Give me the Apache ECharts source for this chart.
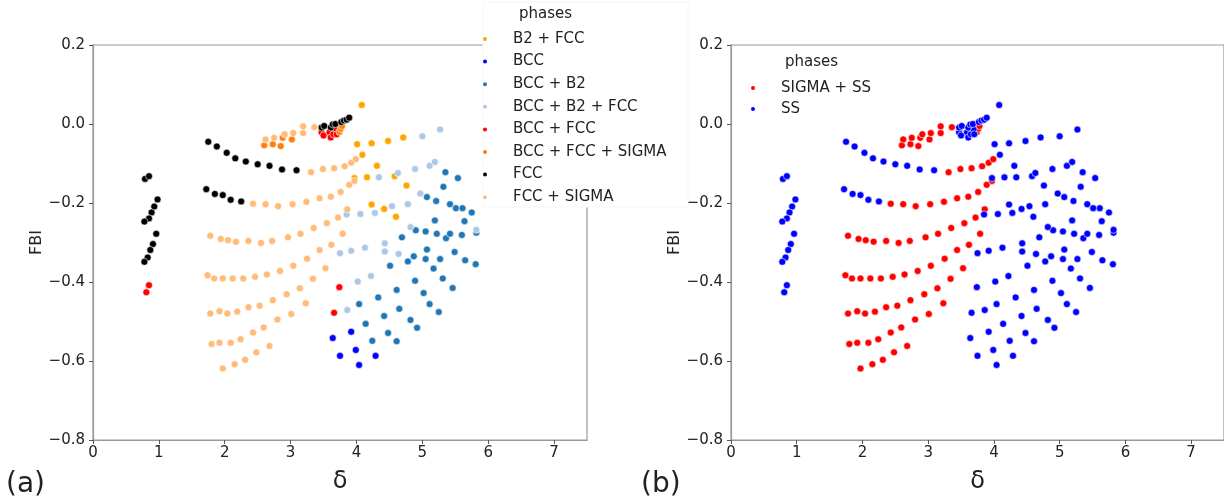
<!DOCTYPE html>
<html>
<head>
<meta charset="utf-8">
<script src="https://cdn.jsdelivr.net/npm/echarts@6/dist/echarts.min.js"></script>
<style>
  html, body { margin: 0; padding: 0; background: #fff; }
  #chart { width: 1224px; height: 501px; }
</style>
</head>
<body>
<div id="chart"></div>
<script>
// ticks
const xTicks = [0, 1, 2, 3, 4, 5, 6, 7];
const yTicks = [0.2, 0.0, -0.2, -0.4, -0.6, -0.8];

// phase order as in the legend
const phaseNames = ['B2 + FCC', 'BCC', 'BCC + B2', 'BCC + B2 + FCC', 'BCC + FCC', 'BCC + FCC + SIGMA', 'FCC', 'FCC + SIGMA'];
const phaseColors = ['#ffa500', '#0000ff', '#1f77b4', '#aec7e8', '#ff0000', '#ff7f0e', '#000000', '#ffbb78'];

// [delta, FBI] per phase
const b2Fcc = [
  [4.08, 0.048], [4.01, -0.051], [4.23, -0.049], [4.48, -0.043], [4.71, -0.034],
  [4.09, -0.078], [4.31, -0.106], [3.97, -0.137], [4.16, -0.135], [4.58, -0.132], [4.76, -0.156],
  [4.23, -0.204], [4.42, -0.215], [4.60, -0.235]
];
const bcc = [
  [3.92, -0.526], [3.64, -0.542], [3.99, -0.572], [3.75, -0.587], [4.29, -0.587], [4.04, -0.610]
];
const bccB2 = [
  [5.35, -0.122], [5.54, -0.137], [5.32, -0.159], [5.07, -0.185], [5.21, -0.195], [5.42, -0.203],
  [5.51, -0.213], [5.61, -0.213], [5.75, -0.224], [5.19, -0.244], [5.64, -0.246],
  [4.90, -0.269], [5.05, -0.272], [5.22, -0.278], [5.36, -0.289], [5.42, -0.278], [5.60, -0.281], [5.82, -0.275],
  [4.69, -0.287], [5.07, -0.318], [4.87, -0.335], [4.78, -0.348], [5.05, -0.342], [5.27, -0.342],
  [5.49, -0.324], [5.65, -0.345], [5.81, -0.355],
  [4.51, -0.359], [5.17, -0.366], [5.31, -0.391], [4.89, -0.397], [5.46, -0.415], [4.61, -0.420],
  [5.02, -0.428], [4.33, -0.439], [5.11, -0.456], [4.65, -0.468], [4.04, -0.456], [5.25, -0.476],
  [4.42, -0.486], [4.82, -0.496], [4.14, -0.506], [4.92, -0.516], [4.48, -0.529], [4.24, -0.549], [4.61, -0.550]
];
const bccB2Fcc = [
  [5.00, -0.031], [5.27, -0.014],
  [4.34, -0.135], [4.63, -0.124], [4.89, -0.114], [5.11, -0.106], [5.19, -0.096],
  [4.97, -0.176], [4.78, -0.203], [4.54, -0.208], [4.28, -0.225], [4.06, -0.228], [3.85, -0.229],
  [4.82, -0.261], [5.82, -0.268],
  [4.43, -0.302], [4.43, -0.323], [4.64, -0.329], [4.13, -0.313], [3.92, -0.321], [3.75, -0.327],
  [4.22, -0.385], [4.02, -0.399], [3.86, -0.471]
];
const bccFcc = [
  [0.85, -0.408], [0.81, -0.426],
  [3.74, -0.413], [3.66, -0.478],
  [3.47, -0.021], [3.50, -0.029], [3.59, -0.021], [3.61, -0.034], [3.65, -0.026], [3.69, -0.014], [3.70, -0.026]
];
const bccFccSigma = [
  [2.60, -0.054], [2.73, -0.051], [2.85, -0.056], [2.88, -0.035], [3.02, -0.039],
  [3.74, -0.020], [3.76, -0.012], [3.78, -0.005]
];
const fcc = [
  [0.79, -0.139], [0.85, -0.132],
  [0.98, -0.191], [0.93, -0.209], [0.89, -0.224], [0.85, -0.239], [0.78, -0.247],
  [0.96, -0.278], [0.91, -0.304], [0.87, -0.319], [0.83, -0.338], [0.78, -0.349],
  [1.75, -0.045], [1.88, -0.057], [2.03, -0.073], [2.16, -0.087], [2.32, -0.095], [2.50, -0.102],
  [2.68, -0.106], [2.87, -0.115], [3.09, -0.117],
  [1.72, -0.165], [1.85, -0.177], [1.97, -0.180], [2.09, -0.192], [2.25, -0.196],
  [3.47, -0.009], [3.51, -0.005], [3.61, -0.009], [3.64, -0.001], [3.68, 0.000],
  [3.77, 0.005], [3.81, 0.009], [3.85, 0.011], [3.89, 0.016]
];
const fccSigma = [
  [2.62, -0.039], [2.75, -0.035], [2.91, -0.026], [3.04, -0.023], [3.19, -0.006], [3.19, -0.023], [3.36, -0.008],
  [3.31, -0.122], [3.49, -0.114], [3.66, -0.112], [3.82, -0.107], [3.92, -0.098], [3.99, -0.089],
  [2.43, -0.202], [2.62, -0.203], [2.81, -0.208], [3.03, -0.203], [3.24, -0.197], [3.44, -0.188],
  [3.61, -0.184], [3.76, -0.172], [3.89, -0.154], [3.97, -0.144],
  [1.78, -0.283], [1.94, -0.291], [2.05, -0.294], [2.17, -0.298], [2.36, -0.296], [2.55, -0.301],
  [2.72, -0.296], [2.96, -0.287], [3.15, -0.278], [3.35, -0.263], [3.55, -0.251], [3.72, -0.237], [3.86, -0.216],
  [1.74, -0.383], [1.84, -0.391], [1.97, -0.391], [2.12, -0.391], [2.28, -0.391], [2.46, -0.387],
  [2.64, -0.381], [2.84, -0.372], [3.04, -0.359], [3.25, -0.341], [3.44, -0.319], [3.62, -0.306], [3.79, -0.278],
  [1.78, -0.480], [1.92, -0.474], [2.04, -0.480], [2.19, -0.475], [2.36, -0.464], [2.53, -0.460],
  [2.73, -0.446], [2.94, -0.431], [3.14, -0.416], [3.34, -0.392], [3.53, -0.365],
  [1.80, -0.557], [1.92, -0.554], [2.09, -0.554], [2.24, -0.545], [2.43, -0.528], [2.59, -0.515],
  [2.80, -0.495], [3.01, -0.481], [3.23, -0.454],
  [1.97, -0.619], [2.15, -0.608], [2.31, -0.597], [2.48, -0.578], [2.68, -0.562]
];
const phaseData = [b2Fcc, bcc, bccB2, bccB2Fcc, bccFcc, bccFccSigma, fcc, fccSigma];

// panel (b): the same alloys grouped by whether SIGMA is present
const groupNames = ['SIGMA + SS', 'SS'];
const groupColors = ['#ff0000', '#0000ff'];

(function () {
  const chartDom = document.getElementById('chart');
  const myChart = echarts.init(chartDom, null, { renderer: 'canvas' });
  const font = '"DejaVu Sans", sans-serif';
  const textColor = '#222';

  let sigmaPts = [];
  let ssPts = [];
  for (let i = 0; i < phaseNames.length; i++) {
    if (phaseNames[i].indexOf('SIGMA') >= 0) {
      sigmaPts = sigmaPts.concat(phaseData[i]);
    } else {
      ssPts = ssPts.concat(phaseData[i]);
    }
  }
  const groupData = [sigmaPts, ssPts];

  /** Grid with a matplotlib style frame */
  function makeGrid(left) {
    return { left: left, top: 45, width: 494, height: 395, show: true, borderColor: '#999', borderWidth: 1.2, backgroundColor: 'transparent' };
  }

  function makeXAxis(gridIndex) {
    return {
      gridIndex: gridIndex, type: 'value', min: 0, max: 7.5,
      name: 'δ', nameLocation: 'middle', nameGap: 30,
      nameTextStyle: { fontSize: 24, color: textColor, fontFamily: font },
      axisLine: { show: true, onZero: false, lineStyle: { color: '#999', width: 1.2 } },
      axisTick: { show: true, length: 4, customValues: xTicks, lineStyle: { color: '#555' } },
      axisLabel: { fontSize: 15, color: textColor, fontFamily: font, margin: 6, customValues: xTicks },
      splitLine: { show: false }
    };
  }

  function makeYAxis(gridIndex) {
    return {
      gridIndex: gridIndex, type: 'value', min: -0.8, max: 0.2,
      name: 'FBI', nameLocation: 'middle', nameGap: 46,
      nameTextStyle: { fontSize: 16, color: textColor, fontFamily: font },
      axisLine: { show: true, onZero: false, lineStyle: { color: '#999', width: 1.2 } },
      axisTick: { show: true, length: 4, customValues: yTicks, lineStyle: { color: '#555' } },
      axisLabel: {
        fontSize: 15, color: textColor, fontFamily: font, margin: 8, customValues: yTicks,
        formatter: v => v.toFixed(1).replace('-', '\u2212')
      },
      splitLine: { show: false }
    };
  }

  const series = [];
  for (let i = 0; i < phaseNames.length; i++) {
    series.push({
      name: phaseNames[i], type: 'scatter', xAxisIndex: 0, yAxisIndex: 0,
      data: phaseData[i], symbolSize: 7,
      itemStyle: { color: phaseColors[i], borderColor: '#fff', borderWidth: 0.6, opacity: 1 },
      emphasis: { disabled: true }
    });
  }
  for (let i = 0; i < groupNames.length; i++) {
    series.push({
      name: groupNames[i], type: 'scatter', xAxisIndex: 1, yAxisIndex: 1,
      data: groupData[i], symbolSize: 7,
      itemStyle: { color: groupColors[i], borderColor: '#fff', borderWidth: 0.6, opacity: 1 },
      emphasis: { disabled: true }
    });
  }

  const legendText = { fontSize: 15, color: textColor, fontFamily: font, lineHeight: 22, padding: [0, 0, 0, 8] };

  const option = {
    animation: false,
    backgroundColor: '#fff',
    grid: [makeGrid(93), makeGrid(731)],
    xAxis: [makeXAxis(0), makeXAxis(1)],
    yAxis: [makeYAxis(0), makeYAxis(1)],
    legend: [
      {
        data: phaseNames, orient: 'vertical', left: 476, top: 23,
        itemWidth: 30, itemHeight: 6, itemGap: 0.6, icon: 'circle',
        selectedMode: false, z: 60, textStyle: legendText
      },
      {
        data: groupNames, orient: 'vertical', left: 744, top: 72,
        itemWidth: 30, itemHeight: 6, itemGap: -1, icon: 'circle',
        selectedMode: false, z: 60, textStyle: legendText
      }
    ],
    graphic: [
      { type: 'rect', z: 50, shape: { x: 483, y: 2, width: 205, height: 205 },
        style: { fill: '#fff', stroke: '#f6f6f6', lineWidth: 1 } },
      { type: 'text', z: 61, left: 519, top: 7,
        style: { text: 'phases', fontSize: 15, fill: textColor, fontFamily: font } },
      { type: 'text', z: 61, left: 785, top: 55,
        style: { text: 'phases', fontSize: 15, fill: textColor, fontFamily: font } },
      { type: 'text', left: 6, top: 471,
        style: { text: '(a)', fontSize: 28, fill: textColor, fontFamily: font } },
      { type: 'text', left: 641, top: 471,
        style: { text: '(b)', fontSize: 28, fill: textColor, fontFamily: font } }
    ],
    series: series
  };

  myChart.setOption(option);
}());
</script>
</body>
</html>
